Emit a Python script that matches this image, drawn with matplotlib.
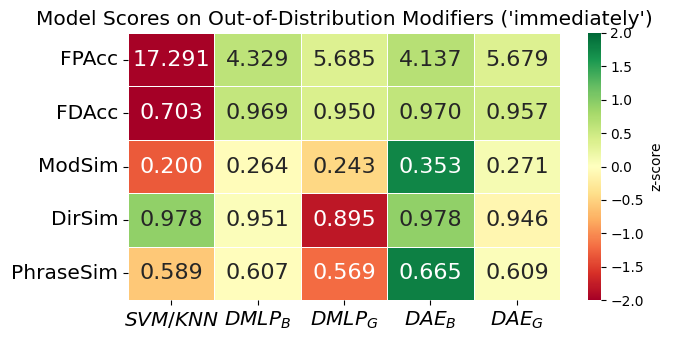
import matplotlib
matplotlib.use('Agg')
import matplotlib.pyplot as plt
import numpy as np
import seaborn as sns

metrics = ["FPAcc", "FDAcc", "ModSim", "DirSim", "PhraseSim"]
models = ["$SVM/KNN$", "$DMLP_B$", "$DMLP_G$", "$DAE_B$", "$DAE_G$"]

fpacc = [17.291, 4.329, 5.685, 4.137, 5.679]
fdacc = [0.703, 0.969, 0.950, 0.970, 0.957]
modsim = [0.200, 0.264, 0.243, 0.353, 0.271]
dirsim = [0.978, 0.951, 0.895, 0.978, 0.946]
phrasesim = [0.589, 0.607, 0.569, 0.665, 0.609]

# lower is better for FPAcc, so flip its sign before z-scoring
higher_better = [False, True, True, True, True]

raw = np.array([fpacc, fdacc, modsim, dirsim, phrasesim])
z = (raw - raw.mean(axis=1, keepdims=True)) / raw.std(axis=1, keepdims=True)
z = z * np.where(higher_better, 1, -1)[:, None]

fig = plt.figure(figsize=(6.74, 3.43), dpi=100)
ax = fig.add_axes([0.19, 0.125, 0.641, 0.779])
cax = fig.add_axes([0.872, 0.125, 0.019, 0.779])

sns.heatmap(z, annot=raw, fmt=".3f", cmap="RdYlGn", vmin=-2, vmax=2,
            linewidths=0.5, linecolor='white', ax=ax, cbar_ax=cax,
            annot_kws={"fontsize": 16},
            xticklabels=models, yticklabels=metrics,
            cbar_kws={"label": "z-score"})

ax.set_title("Model Scores on Out-of-Distribution Modifiers ('immediately')", fontsize=14.5)
ax.tick_params(axis='x', labelsize=14.5, rotation=0)
ax.tick_params(axis='y', labelsize=14.5, rotation=0)
cax.tick_params(labelsize=10)
cax.yaxis.label.set_size(10)

plt.savefig("out.png", dpi=100)
